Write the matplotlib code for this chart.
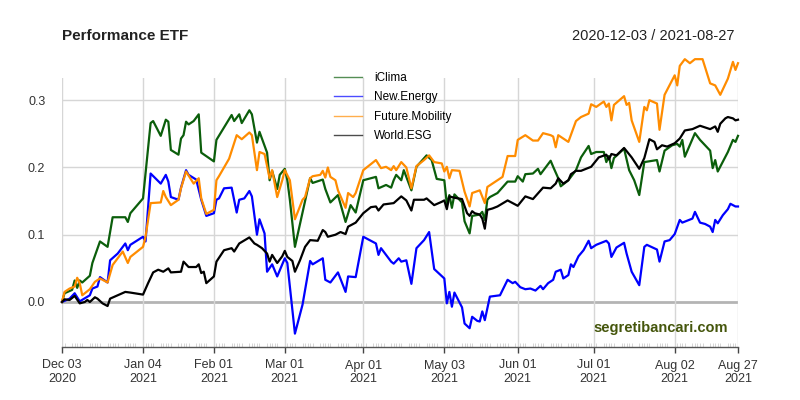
import pandas as pd
import matplotlib
matplotlib.use("Agg")
import matplotlib.pyplot as plt
from matplotlib.lines import Line2D

plt.rcParams['font.family'] = ['Liberation Sans', 'DejaVu Sans']

start = pd.Timestamp('2020-12-03')
end = pd.Timestamp('2021-08-27')

# x = days after 2020-12-03, y = cumulative return
iclima_day = [0, 1, 4, 5, 6, 7, 8, 11, 12, 15,
              18, 20, 25, 26, 27, 32, 35, 36, 39, 41,
              42, 43, 46, 47, 48, 49, 50, 52, 54, 55,
              60, 61, 67, 68, 70, 71, 74, 75, 77, 78,
              81, 82, 83, 85, 86, 88, 89, 90, 92, 98,
              99, 103, 104, 106, 109, 112, 114, 116, 119, 124,
              125, 128, 130, 131, 132, 134, 135, 138, 140, 144,
              146, 148, 151, 152, 153, 154, 155, 158, 159, 161,
              162, 165, 166, 167, 168, 169, 172, 176, 179, 180,
              182, 183, 186, 188, 189, 193, 194, 196, 197, 200,
              203, 205, 208, 209, 211, 214, 215, 216, 217, 218,
              222, 224, 226, 228, 230, 235, 236, 238, 241, 243,
              244, 245, 246, 250, 252, 256, 257, 258, 259, 263,
              265, 266, 267]
iclima = [0.0, 0.013, 0.018, 0.032, 0.021, 0.032, 0.029, 0.039, 0.058, 0.090,
          0.082, 0.126, 0.126, 0.119, 0.132, 0.154, 0.266, 0.269, 0.247, 0.271,
          0.268, 0.226, 0.219, 0.243, 0.248, 0.268, 0.264, 0.269, 0.279, 0.222,
          0.209, 0.241, 0.278, 0.269, 0.279, 0.266, 0.285, 0.279, 0.237, 0.253,
          0.222, 0.181, 0.195, 0.168, 0.189, 0.198, 0.181, 0.152, 0.082, 0.184,
          0.177, 0.182, 0.168, 0.148, 0.159, 0.119, 0.144, 0.133, 0.181, 0.186,
          0.169, 0.174, 0.170, 0.181, 0.189, 0.181, 0.196, 0.166, 0.201, 0.218,
          0.211, 0.183, 0.181, 0.145, 0.159, 0.140, 0.160, 0.148, 0.120, 0.102,
          0.128, 0.130, 0.134, 0.122, 0.152, 0.156, 0.162, 0.179, 0.179, 0.187,
          0.179, 0.190, 0.191, 0.198, 0.190, 0.210, 0.201, 0.184, 0.172, 0.181,
          0.196, 0.215, 0.232, 0.220, 0.223, 0.223, 0.208, 0.217, 0.199, 0.214,
          0.228, 0.196, 0.181, 0.159, 0.208, 0.211, 0.194, 0.225, 0.233, 0.235,
          0.231, 0.241, 0.216, 0.251, 0.241, 0.225, 0.199, 0.211, 0.194, 0.223,
          0.241, 0.238, 0.247]

energy_day = [0, 3, 5, 7, 11, 12, 14, 15, 18, 19,
              22, 25, 26, 27, 32, 33, 35, 39, 41, 42,
              43, 46, 47, 49, 50, 53, 55, 57, 60, 61,
              62, 64, 67, 69, 70, 72, 74, 75, 77, 78,
              80, 81, 83, 85, 88, 89, 92, 95, 98, 99,
              103, 104, 106, 109, 112, 113, 116, 119, 124, 125,
              126, 130, 131, 133, 134, 136, 138, 140, 143, 145,
              147, 151, 152, 153, 154, 155, 158, 159, 161, 162,
              164, 165, 166, 167, 169, 173, 176, 178, 179, 181,
              183, 185, 187, 189, 190, 192, 194, 195, 197, 198,
              200, 201, 202, 204, 206, 208, 209, 211, 215, 216,
              217, 219, 222, 223, 225, 228, 230, 231, 235, 236,
              238, 240, 242, 244, 245, 249, 250, 252, 254, 256,
              257, 258, 259, 261, 263, 264, 266, 267]
energy = [0.0, 0.005, 0.013, 0.001, 0.010, 0.020, 0.023, 0.037, 0.029, 0.062,
          0.072, 0.087, 0.077, 0.085, 0.097, 0.090, 0.191, 0.176, 0.189, 0.179,
          0.156, 0.152, 0.170, 0.196, 0.189, 0.182, 0.152, 0.128, 0.132, 0.152,
          0.154, 0.169, 0.170, 0.133, 0.152, 0.154, 0.165, 0.157, 0.100, 0.123,
          0.102, 0.045, 0.056, 0.038, 0.065, 0.058, -0.047, -0.004, 0.061, 0.056,
          0.065, 0.033, 0.029, 0.044, 0.015, 0.038, 0.037, 0.097, 0.087, 0.070,
          0.080, 0.060, 0.057, 0.065, 0.060, 0.062, 0.027, 0.080, 0.092, 0.104,
          0.049, 0.035, -0.002, 0.015, -0.007, 0.014, -0.008, -0.032, -0.039, -0.022,
          -0.028, -0.029, -0.014, -0.027, 0.008, 0.010, 0.033, 0.028, 0.030, 0.022,
          0.019, 0.020, 0.017, 0.024, 0.019, 0.028, 0.033, 0.045, 0.048, 0.035,
          0.040, 0.056, 0.052, 0.068, 0.077, 0.091, 0.080, 0.085, 0.091, 0.087,
          0.067, 0.081, 0.088, 0.072, 0.045, 0.025, 0.082, 0.085, 0.078, 0.060,
          0.090, 0.092, 0.101, 0.122, 0.118, 0.124, 0.134, 0.118, 0.116, 0.112,
          0.104, 0.122, 0.117, 0.129, 0.138, 0.146, 0.142, 0.142]

mobility_day = [0, 1, 3, 5, 6, 7, 8, 11, 13, 15,
                18, 20, 24, 26, 27, 32, 33, 35, 39, 40,
                41, 43, 46, 47, 49, 52, 54, 55, 57, 60,
                61, 62, 66, 69, 71, 74, 75, 77, 78, 80,
                82, 83, 85, 87, 88, 90, 92, 95, 96, 98,
                99, 102, 103, 104, 105, 106, 108, 109, 112, 113,
                115, 116, 119, 122, 124, 126, 128, 130, 131, 132,
                134, 136, 138, 140, 143, 145, 147, 150, 151, 152,
                153, 154, 157, 159, 161, 162, 165, 167, 168, 170,
                174, 176, 179, 180, 183, 186, 188, 190, 193, 194,
                195, 196, 200, 203, 205, 208, 209, 211, 214, 215,
                216, 217, 218, 222, 223, 224, 225, 228, 230, 231,
                232, 235, 236, 238, 242, 243, 244, 246, 248, 250,
                253, 256, 258, 260, 263, 265, 266, 267]
mobility = [0.0, 0.015, 0.020, 0.023, 0.036, 0.028, 0.010, 0.019, 0.030, 0.035,
            0.029, 0.055, 0.075, 0.058, 0.067, 0.082, 0.097, 0.147, 0.148, 0.165,
            0.156, 0.144, 0.152, 0.169, 0.194, 0.176, 0.184, 0.154, 0.131, 0.137,
            0.181, 0.187, 0.213, 0.248, 0.242, 0.252, 0.248, 0.196, 0.223, 0.220,
            0.184, 0.196, 0.156, 0.181, 0.196, 0.181, 0.123, 0.152, 0.156, 0.184,
            0.187, 0.189, 0.195, 0.185, 0.200, 0.186, 0.181, 0.166, 0.140, 0.162,
            0.156, 0.162, 0.196, 0.205, 0.211, 0.199, 0.201, 0.196, 0.202, 0.196,
            0.208, 0.200, 0.169, 0.202, 0.211, 0.218, 0.208, 0.206, 0.194, 0.201,
            0.184, 0.196, 0.195, 0.164, 0.142, 0.162, 0.166, 0.147, 0.171, 0.176,
            0.186, 0.217, 0.217, 0.241, 0.248, 0.240, 0.240, 0.251, 0.248, 0.246,
            0.230, 0.248, 0.238, 0.269, 0.275, 0.280, 0.294, 0.290, 0.298, 0.290,
            0.295, 0.270, 0.293, 0.306, 0.293, 0.296, 0.270, 0.238, 0.290, 0.285,
            0.300, 0.295, 0.256, 0.308, 0.337, 0.322, 0.351, 0.361, 0.355, 0.361,
            0.361, 0.325, 0.322, 0.308, 0.332, 0.357, 0.345, 0.355]

esg_day = [0, 1, 3, 5, 7, 9, 10, 11, 13, 14,
           16, 18, 19, 25, 27, 32, 34, 36, 38, 40,
           42, 43, 47, 48, 50, 53, 54, 55, 56, 57,
           60, 61, 64, 67, 68, 70, 74, 76, 77, 79,
           81, 82, 83, 85, 87, 88, 89, 91, 92, 94,
           96, 98, 101, 103, 104, 105, 108, 110, 112, 113,
           116, 119, 122, 124, 125, 127, 131, 134, 136, 138,
           139, 143, 144, 147, 150, 151, 152, 153, 155, 158,
           160, 161, 162, 163, 165, 166, 167, 168, 170, 172,
           176, 180, 183, 186, 190, 193, 195, 196, 198, 200,
           201, 203, 205, 209, 212, 215, 216, 217, 219, 222,
           225, 228, 230, 232, 234, 235, 237, 239, 242, 244,
           246, 249, 252, 256, 258, 259, 260, 262, 263, 265,
           266, 267]
esg = [0.0, 0.004, 0.003, 0.009, -0.002, 0.000, 0.003, 0.000, 0.007, 0.005,
       -0.002, -0.006, 0.005, 0.015, 0.014, 0.011, 0.028, 0.044, 0.048, 0.045,
       0.050, 0.044, 0.045, 0.060, 0.052, 0.052, 0.056, 0.043, 0.045, 0.028,
       0.038, 0.060, 0.077, 0.080, 0.075, 0.087, 0.096, 0.087, 0.085, 0.080,
       0.072, 0.060, 0.070, 0.058, 0.068, 0.076, 0.067, 0.061, 0.045, 0.062,
       0.082, 0.092, 0.091, 0.107, 0.104, 0.097, 0.100, 0.104, 0.101, 0.112,
       0.118, 0.132, 0.141, 0.142, 0.136, 0.145, 0.147, 0.157, 0.151, 0.136,
       0.152, 0.152, 0.154, 0.144, 0.149, 0.151, 0.138, 0.157, 0.155, 0.153,
       0.132, 0.128, 0.135, 0.132, 0.130, 0.124, 0.109, 0.137, 0.139, 0.142,
       0.151, 0.143, 0.157, 0.153, 0.170, 0.169, 0.176, 0.184, 0.176, 0.181,
       0.190, 0.195, 0.195, 0.201, 0.215, 0.219, 0.212, 0.220, 0.218, 0.229,
       0.215, 0.198, 0.214, 0.242, 0.238, 0.227, 0.233, 0.231, 0.236, 0.243,
       0.255, 0.257, 0.262, 0.257, 0.261, 0.253, 0.265, 0.273, 0.275, 0.273,
       0.270, 0.271]

names = ['iClima', 'New.Energy', 'Future.Mobility', 'World.ESG']
colors = ['#0b5e0b', '#0000ff', '#ff8c00', '#000000']
tick_dates = ['2020-12-03', '2021-01-04', '2021-02-01', '2021-03-01', '2021-04-01',
              '2021-05-03', '2021-06-01', '2021-07-01', '2021-08-02', '2021-08-27']
y_ticks = [0.0, 0.1, 0.2, 0.3]

series = [(iclima_day, iclima), (energy_day, energy),
          (mobility_day, mobility), (esg_day, esg)]

fig = plt.figure(figsize=(8, 4), dpi=100)
ax = fig.add_axes([62/800, 53/400, 676/800, 269/400])

for (d, v), c in zip(series, colors):
    x = start + pd.to_timedelta(d, unit='D')
    ax.plot(x, v, color=c, lw=1.6, clip_on=False, zorder=3)

ax.set_xlim(start, end)
ax.set_ylim(-0.0669, 0.333)

# grid
for yv in y_ticks:
    ax.axhline(yv, color='#b4b4b4' if yv == 0 else '#d6d6d6',
               lw=2.0 if yv == 0 else 1.0, zorder=1)
ticks = pd.to_datetime(tick_dates)
for t in ticks:
    ax.axvline(t, color='#d6d6d6', lw=1.0, zorder=1)

for s in ['top', 'left', 'right']:
    ax.spines[s].set_visible(False)
ax.spines['bottom'].set_color('#555555')
ax.spines['bottom'].set_linewidth(1.0)

ax.set_xticks(ticks)
ax.set_xticklabels([t.strftime('%b %d\n%Y') for t in ticks])
ax.set_xticks(pd.bdate_range(start, end), minor=True)
ax.tick_params(axis='x', which='major', length=4, width=1, color='#444444',
               pad=5, labelsize=9, labelcolor='#333333')
ax.tick_params(axis='x', which='minor', direction='in', length=3, width=0.6,
               color='#d0d0d0')
ax.set_yticks(y_ticks)
ax.set_yticklabels(['%.1f' % v for v in y_ticks])
ax.tick_params(axis='y', length=0, pad=12, labelsize=9, labelcolor='#333333')

handles = [Line2D([], [], color=c, lw=1.0, alpha=0.7) for c in colors]
fig.legend(handles, names, loc='upper left', bbox_to_anchor=(334/800, 1 - 72/400),
           frameon=False, fontsize=8.5, handlelength=2.4, handletextpad=1.0,
           labelspacing=0.62, borderpad=0, borderaxespad=0)

fig.text(62/800, 1 - 36/400, 'Performance ETF', fontsize=11, fontweight='bold',
         ha='left', va='center', color='#222222')
fig.text(734/800, 1 - 36/400, '2020-12-03 / 2021-08-27', fontsize=10.5,
         ha='right', va='center', color='#222222')
fig.text(728/800, 1 - 328/400, 'segretibancari.com', fontsize=10.5,
         fontweight='bold', ha='right', va='center', color='#45560c')

plt.savefig('out.png', dpi=100)
